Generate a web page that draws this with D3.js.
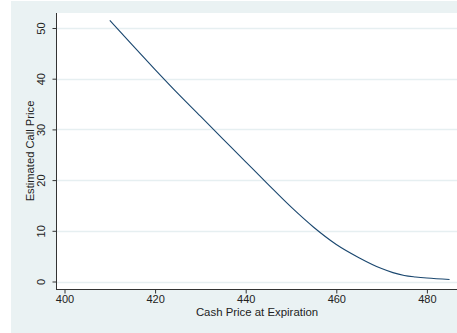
<!DOCTYPE html>
<html>
<head>
<meta charset="utf-8">
<script src="https://cdn.jsdelivr.net/npm/d3@7"></script>
<style>
  html, body { margin: 0; padding: 0; background: #ffffff; }
  svg { display: block; }
  text { font-family: "Liberation Sans", Arial, sans-serif; fill: #222; }
</style>
</head>
<body>
<svg id="chart" width="457" height="333"></svg>
<script>
// Cash price at expiration and the estimated call price at each level
const cashPrice = [410, 415, 420, 425, 430, 435, 440, 445, 450, 455, 460, 465, 470, 472.5, 475, 477.5, 480, 485];
const callPrice = [51.5, 46.6, 41.8, 37.1, 32.6, 28.1, 23.6, 19.1, 14.7, 10.7, 7.3, 4.7, 2.55, 1.75, 1.2, 0.9, 0.68, 0.4];

const xTicks = [400, 420, 440, 460, 480];
const yTicks = [0, 10, 20, 30, 40, 50];

const xTitle = "Cash Price at Expiration";
const yTitle = "Estimated Call Price";

const W = 457, H = 333;
const plot = { left: 57, right: 457, top: 13, bottom: 289 };

const svg = d3.select("#chart");

// graph background
svg.append("rect")
  .attr("x", 11).attr("y", 1)
  .attr("width", W - 11).attr("height", H - 1)
  .attr("fill", "#eaf2f3");

// plot region
svg.append("rect")
  .attr("x", plot.left).attr("y", plot.top)
  .attr("width", plot.right - plot.left).attr("height", plot.bottom - plot.top)
  .attr("fill", "#ffffff");

const x = d3.scaleLinear().domain([400, 480]).range([64.5, 426.9]);
const y = d3.scaleLinear().domain([0, 50]).range([281.5, 28]);

// horizontal grid lines
svg.append("g")
  .selectAll("line")
  .data(yTicks)
  .join("line")
  .attr("x1", plot.left).attr("x2", plot.right)
  .attr("y1", d => Math.round(y(d)) + 0.5)
  .attr("y2", d => Math.round(y(d)) + 0.5)
  .attr("stroke", "#e6eff1")
  .attr("stroke-width", 1.5);

// curve
const line = d3.line()
  .x((d, i) => x(cashPrice[i]))
  .y(d => y(d))
  .curve(d3.curveMonotoneX);

svg.append("path")
  .datum(callPrice)
  .attr("d", line)
  .attr("fill", "none")
  .attr("stroke", "#1a476f")
  .attr("stroke-width", 1.1);

// y axis
const yAxis = svg.append("g")
  .attr("transform", `translate(${plot.left - 0.5},0)`)
  .call(d3.axisLeft(y).tickValues(yTicks).tickSize(4).tickPadding(6).tickSizeOuter(0));
yAxis.select(".domain").remove();
yAxis.append("line")
  .attr("x1", 0).attr("x2", 0)
  .attr("y1", plot.top).attr("y2", plot.bottom + 0.5)
  .attr("stroke", "#333").attr("stroke-width", 1);
yAxis.selectAll(".tick line").attr("stroke", "#333");
yAxis.selectAll(".tick text")
  .attr("font-size", 11)
  .attr("fill", "#222")
  .attr("text-anchor", "middle")
  .attr("dy", null)
  .attr("x", 0)
  .attr("transform", "translate(-14,0) rotate(-90)")
  .attr("dominant-baseline", "middle");

// x axis
const xAxis = svg.append("g")
  .attr("transform", `translate(0,${plot.bottom + 0.5})`)
  .call(d3.axisBottom(x).tickValues(xTicks).tickSize(4).tickPadding(2).tickSizeOuter(0));
xAxis.select(".domain").remove();
xAxis.append("line")
  .attr("x1", plot.left - 1).attr("x2", plot.right)
  .attr("y1", 0).attr("y2", 0)
  .attr("stroke", "#333").attr("stroke-width", 1);
xAxis.selectAll(".tick line").attr("stroke", "#333");
xAxis.selectAll(".tick text")
  .attr("font-size", 11)
  .attr("fill", "#222");

// axis titles
svg.append("text")
  .attr("x", (plot.left + plot.right) / 2)
  .attr("y", 316)
  .attr("text-anchor", "middle")
  .attr("font-size", 11.4)
  .text(xTitle);

svg.append("text")
  .attr("transform", `translate(33.5,${(plot.top + plot.bottom) / 2}) rotate(-90)`)
  .attr("text-anchor", "middle")
  .attr("font-size", 11.2)
  .text(yTitle);
</script>
</body>
</html>
